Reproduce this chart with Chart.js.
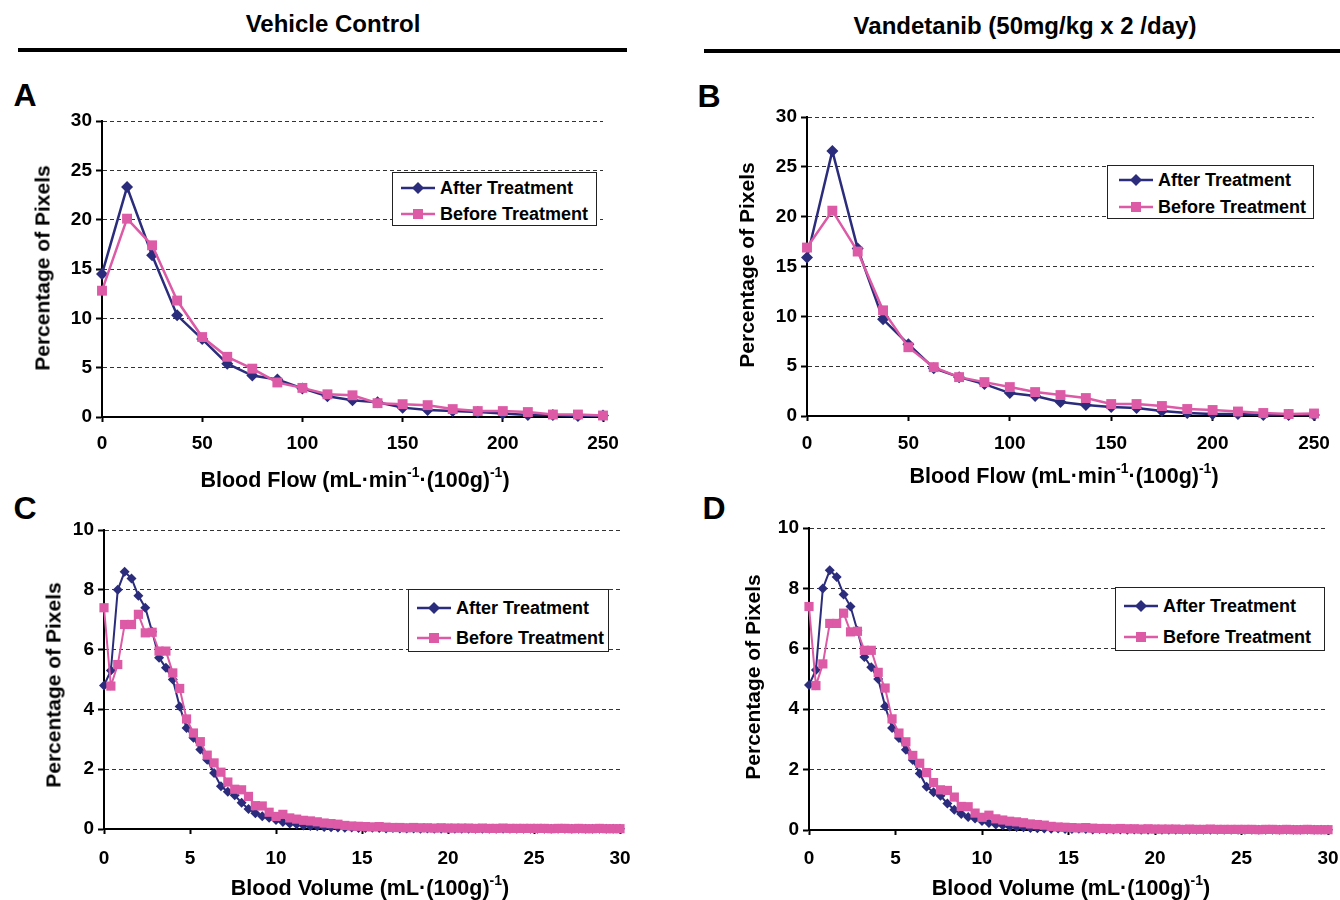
<!DOCTYPE html>
<html>
<head>
<meta charset="utf-8">
<script src="https://cdn.jsdelivr.net/npm/chart.js@4.4.1/dist/chart.umd.min.js"></script>
<style>
    body { margin: 0; background: #fff; }
    #page {
        position: relative;
        width: 1340px;
        height: 900px;
        overflow: hidden;
        font-family: "Liberation Sans", Arial, sans-serif;
        font-weight: bold;
        color: #000;
    }
    .abs { position: absolute; }
    .txt { position: absolute; white-space: nowrap; line-height: 1; transform: translate(-50%, -50%); }
    .head { font-size: 24px; }
    .letter { font-size: 32px; }
    .xt { font-size: 21.5px; }
    .yt { font-size: 21px; transform: translate(-50%, -50%) rotate(-90deg); }
    .rule { position: absolute; height: 4px; background: #000; }
    .legend { position: absolute; border: 1.5px solid #222; background: #fff; box-sizing: border-box; font-size: 18px; z-index: 2; }
    .legend .row { position: absolute; display: flex; align-items: center; white-space: nowrap; transform: translateY(-50%); line-height: 1; }
    .legend svg { display: block; }
    sup { font-size: 0.65em; line-height: 0; vertical-align: 0.72em; }
</style>
</head>
<body>
<div id="page">
    <div class="txt head" style="left:333px;top:24px">Vehicle Control</div>
    <div class="rule" style="left:18px;top:48px;width:609px"></div>
    <div class="txt head" style="left:1025px;top:26px">Vandetanib (50mg/kg x 2 /day)</div>
    <div class="rule" style="left:704px;top:49px;width:636px"></div>

    <div class="txt letter" style="left:25px;top:95px">A</div>
    <div class="txt letter" style="left:709px;top:96px">B</div>
    <div class="txt letter" style="left:25px;top:508px">C</div>
    <div class="txt letter" style="left:714px;top:508px">D</div>

    <canvas id="chartA" class="abs" style="left:0;top:100px"></canvas>
    <canvas id="chartB" class="abs" style="left:680px;top:100px"></canvas>
    <canvas id="chartC" class="abs" style="left:0;top:510px"></canvas>
    <canvas id="chartD" class="abs" style="left:680px;top:510px"></canvas>

    <div class="txt yt" style="left:42px;top:268px">Percentage of Pixels</div>
    <div class="txt yt" style="left:746px;top:265px">Percentage of Pixels</div>
    <div class="txt yt" style="left:53px;top:685px">Percentage of Pixels</div>
    <div class="txt yt" style="left:752px;top:677px">Percentage of Pixels</div>

    <div class="txt xt" style="left:355px;top:481px">Blood Flow (mL·min<sup>-1</sup>·(100g)<sup>-1</sup>)</div>
    <div class="txt xt" style="left:1064px;top:477px">Blood Flow (mL·min<sup>-1</sup>·(100g)<sup>-1</sup>)</div>
    <div class="txt xt" style="left:370px;top:889px">Blood Volume (mL·(100g)<sup>-1</sup>)</div>
    <div class="txt xt" style="left:1071px;top:889px">Blood Volume (mL·(100g)<sup>-1</sup>)</div>
</div>

<script>
const AFTER_COLOR = "#2b2c7c";
const BEFORE_COLOR = "#dc5aa6";

// blood flow bins, mL/min/100g
const flowBins = [0, 12.5, 25, 37.5, 50, 62.5, 75, 87.5, 100, 112.5, 125, 137.5, 150, 162.5, 175, 187.5, 200, 212.5, 225, 237.5, 250];
const flowTicks = [0, 50, 100, 150, 200, 250];

// A - vehicle control
const flowAfterVehicle = [14.5, 23.3, 16.4, 10.3, 7.9, 5.4, 4.2, 3.8, 2.9, 2.1, 1.7, 1.5, 0.95, 0.7, 0.6, 0.5, 0.35, 0.2, 0.2, 0.1, 0.15];
const flowBeforeVehicle = [12.8, 20.1, 17.4, 11.8, 8.1, 6.1, 4.9, 3.5, 2.95, 2.3, 2.2, 1.4, 1.3, 1.2, 0.8, 0.6, 0.6, 0.5, 0.25, 0.25, 0.15];

// B - vandetanib
const flowAfterVandetanib = [15.9, 26.6, 16.8, 9.7, 7.2, 4.8, 3.9, 3.2, 2.3, 2.0, 1.4, 1.1, 0.9, 0.8, 0.5, 0.3, 0.2, 0.2, 0.1, 0.1, 0.1];
const flowBeforeVandetanib = [16.9, 20.6, 16.5, 10.6, 6.9, 4.9, 3.9, 3.4, 2.9, 2.4, 2.1, 1.8, 1.2, 1.2, 1.0, 0.7, 0.6, 0.45, 0.3, 0.2, 0.25];

// blood volume bins, mL/100g
const volumeBins = [0, 0.4, 0.8, 1.2, 1.6, 2, 2.4, 2.8, 3.2, 3.6, 4, 4.4, 4.8, 5.2, 5.6, 6, 6.4, 6.8, 7.2, 7.6,
    8, 8.4, 8.8, 9.2, 9.6, 10, 10.4, 10.8, 11.2, 11.6, 12, 12.4, 12.8, 13.2, 13.6, 14, 14.4, 14.8, 15.2, 15.6,
    16, 16.4, 16.8, 17.2, 17.6, 18, 18.4, 18.8, 19.2, 19.6, 20, 20.4, 20.8, 21.2, 21.6, 22, 22.4, 22.8, 23.2, 23.6,
    24, 24.4, 24.8, 25.2, 25.6, 26, 26.4, 26.8, 27.2, 27.6, 28, 28.4, 28.8, 29.2, 29.6, 30];
const volumeTicks = [0, 5, 10, 15, 20, 25, 30];

// C and D show the same curves in the figure
const volumeAfter = [4.8, 5.3, 8.0, 8.6, 8.38, 7.8, 7.4, 6.6, 5.73, 5.39, 5.0, 4.1, 3.38, 3.05, 2.66, 2.32, 1.87, 1.43, 1.25, 1.13,
    0.88, 0.67, 0.53, 0.43, 0.38, 0.3, 0.23, 0.18, 0.16, 0.12, 0.1, 0.09, 0.07, 0.06, 0.05, 0.04, 0.05, 0.03, 0.03, 0.04,
    0.03, 0.02, 0.03, 0.02, 0.02, 0.02, 0.01, 0.02, 0.01, 0.01, 0.02, 0.01, 0.01, 0.01, 0.01, 0.01, 0.01, 0.01, 0.01, 0.01,
    0.01, 0.01, 0.01, 0.01, 0.01, 0.01, 0.01, 0.01, 0.01, 0.01, 0.01, 0.01, 0.01, 0.01, 0.01, 0.01];
const volumeBefore = [7.4, 4.78, 5.5, 6.84, 6.84, 7.18, 6.56, 6.58, 5.95, 5.95, 5.22, 4.7, 3.68, 3.21, 2.92, 2.47, 2.21, 1.9, 1.57, 1.33,
    1.31, 1.09, 0.78, 0.77, 0.56, 0.42, 0.49, 0.37, 0.33, 0.29, 0.27, 0.24, 0.2, 0.18, 0.16, 0.12, 0.1, 0.09, 0.08, 0.07,
    0.08, 0.06, 0.05, 0.05, 0.04, 0.05, 0.04, 0.04, 0.03, 0.04, 0.03, 0.03, 0.03, 0.03, 0.02, 0.03, 0.02, 0.02, 0.03, 0.02,
    0.02, 0.02, 0.02, 0.02, 0.02, 0.01, 0.02, 0.02, 0.01, 0.02, 0.01, 0.01, 0.02, 0.01, 0.01, 0.01];

const seriesNames = ["After Treatment", "Before Treatment"];

Chart.defaults.font.family = '"Liberation Sans", Arial, sans-serif';

const toPoints = (bins, values) => bins.map((x, i) => ({ x, y: values[i] }));

function drawPanel(id, cfg) {
    const canvas = document.getElementById(id);
    canvas.width = cfg.width;
    canvas.height = cfg.height;
    canvas.style.width = cfg.width + "px";
    canvas.style.height = cfg.height + "px";

    return new Chart(canvas, {
        type: "line",
        data: {
            datasets: [
                {
                    // drawn on top
                    label: seriesNames[1],
                    data: toPoints(cfg.bins, cfg.before),
                    borderColor: BEFORE_COLOR,
                    backgroundColor: BEFORE_COLOR,
                    borderWidth: cfg.lineWidth,
                    pointStyle: "rect",
                    pointRadius: cfg.squareRadius,
                    pointBorderWidth: 0,
                    tension: 0,
                    clip: false,
                },
                {
                    label: seriesNames[0],
                    data: toPoints(cfg.bins, cfg.after),
                    borderColor: AFTER_COLOR,
                    backgroundColor: AFTER_COLOR,
                    borderWidth: cfg.lineWidth,
                    pointStyle: "rectRot",
                    pointRadius: cfg.diamondRadius,
                    pointBorderWidth: 0,
                    tension: 0,
                    clip: false,
                },
            ],
        },
        options: {
            responsive: false,
            animation: false,
            devicePixelRatio: 1,
            layout: { padding: { left: 0, right: cfg.padRight, top: cfg.padTop, bottom: 0 } },
            plugins: { legend: { display: false }, tooltip: { enabled: false } },
            scales: {
                x: {
                    type: "linear",
                    min: cfg.xTicks[0],
                    max: cfg.xTicks[cfg.xTicks.length - 1],
                    afterBuildTicks: (scale) => {
                        scale.ticks = cfg.xTicks.map((v) => ({ value: v }));
                    },
                    afterFit: (scale) => {
                        scale.height = cfg.xAxisHeight;
                        scale.paddingLeft = 0;
                        scale.paddingRight = 0;
                    },
                    grid: {
                        drawOnChartArea: false,
                        drawTicks: true,
                        tickLength: 5,
                        tickColor: "#000",
                        tickWidth: 2,
                    },
                    border: { display: true, color: "#000", width: 2 },
                    ticks: {
                        color: "#000",
                        padding: cfg.xTickPad,
                        maxRotation: 0,
                        font: { size: 19, weight: "bold" },
                    },
                },
                y: {
                    min: 0,
                    max: cfg.yMax,
                    afterBuildTicks: (scale) => {
                        scale.ticks = cfg.yTicks.map((v) => ({ value: v }));
                    },
                    afterFit: (scale) => {
                        scale.width = cfg.yAxisWidth;
                        scale.paddingTop = 0;
                        scale.paddingBottom = 0;
                    },
                    grid: {
                        color: "#333",
                        lineWidth: 1,
                        drawTicks: true,
                        tickLength: 6,
                        tickColor: "#000",
                        tickWidth: 2,
                    },
                    border: { display: true, color: "#000", width: 2, dash: [4, 3] },
                    ticks: {
                        color: "#000",
                        padding: 4,
                        font: { size: 19, weight: "bold" },
                    },
                },
            },
        },
    });
}

const flowYTicks = [0, 5, 10, 15, 20, 25, 30];
const volumeYTicks = [0, 2, 4, 6, 8, 10];

drawPanel("chartA", {
    width: 640, height: 400, padRight: 37, padTop: 21, yAxisWidth: 102, xAxisHeight: 83, xTickPad: 10,
    bins: flowBins, after: flowAfterVehicle, before: flowBeforeVehicle,
    xTicks: flowTicks, yTicks: flowYTicks, yMax: 30,
    lineWidth: 2.5, squareRadius: 7, diamondRadius: 6,
});
drawPanel("chartB", {
    width: 660, height: 400, padRight: 26, padTop: 17, yAxisWidth: 127, xAxisHeight: 84, xTickPad: 11,
    bins: flowBins, after: flowAfterVandetanib, before: flowBeforeVandetanib,
    xTicks: flowTicks, yTicks: flowYTicks, yMax: 30,
    lineWidth: 2.5, squareRadius: 7, diamondRadius: 6,
});
drawPanel("chartC", {
    width: 640, height: 380, padRight: 20, padTop: 20, yAxisWidth: 104, xAxisHeight: 61, xTickPad: 13,
    bins: volumeBins, after: volumeAfter, before: volumeBefore,
    xTicks: volumeTicks, yTicks: volumeYTicks, yMax: 10,
    lineWidth: 2, squareRadius: 6.5, diamondRadius: 5,
});
drawPanel("chartD", {
    width: 660, height: 380, padRight: 12, padTop: 18, yAxisWidth: 129, xAxisHeight: 60, xTickPad: 12,
    bins: volumeBins, after: volumeAfter, before: volumeBefore,
    xTicks: volumeTicks, yTicks: volumeYTicks, yMax: 10,
    lineWidth: 2, squareRadius: 6.5, diamondRadius: 5,
});

// html legends inside each plot
function marker(kind, color) {
    const shape = kind === "diamond"
        ? `<polygon points="17,1 23,7 17,13 11,7" fill="${color}"/>`
        : `<rect x="12" y="2" width="10" height="10" fill="${color}"/>`;
    return `<svg width="34" height="14"><line x1="0" y1="7" x2="34" y2="7" stroke="${color}" stroke-width="2.5"/>${shape}</svg>`;
}

function addLegend(box) {
    const el = document.createElement("div");
    el.className = "legend";
    el.style.left = box.left + "px";
    el.style.top = box.top + "px";
    el.style.width = box.width + "px";
    el.style.height = box.height + "px";
    const kinds = [["diamond", AFTER_COLOR], ["square", BEFORE_COLOR]];
    seriesNames.forEach((name, i) => {
        const row = document.createElement("div");
        row.className = "row";
        row.style.left = box.lineX + "px";
        row.style.top = box.rows[i] + "px";
        row.innerHTML = marker(kinds[i][0], kinds[i][1]) + `<span style="margin-left:5px">${name}</span>`;
        el.appendChild(row);
    });
    document.getElementById("page").appendChild(el);
}

addLegend({ left: 392, top: 172, width: 205, height: 54, lineX: 8, rows: [15, 41] });
addLegend({ left: 1107, top: 165, width: 207, height: 54, lineX: 11, rows: [14, 41] });
addLegend({ left: 408, top: 589, width: 201, height: 63, lineX: 8, rows: [18, 48] });
addLegend({ left: 1115, top: 587, width: 210, height: 64, lineX: 8, rows: [18, 49] });
</script>
</body>
</html>
